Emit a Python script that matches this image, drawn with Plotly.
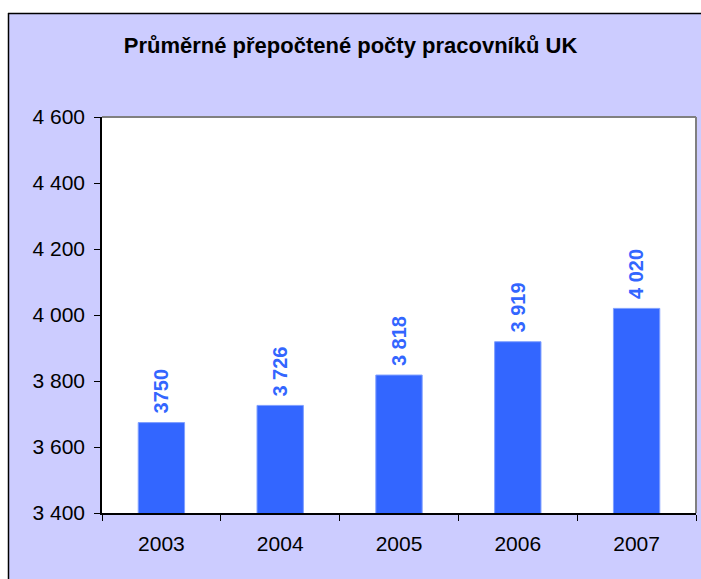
import plotly.graph_objects as go

years = ["2003", "2004", "2005", "2006", "2007"]
values = [3674, 3726, 3818, 3919, 4020]
labels = ["3750", "3 726", "3 818", "3 919", "4 020"]
y_ticks = [3400, 3600, 3800, 4000, 4200, 4400, 4600]
y_tick_text = ["3 400", "3 600", "3 800", "4 000", "4 200", "4 400", "4 600"]
title = "Průměrné přepočtené počty pracovníků UK"

W, H = 701, 579
L, R, T, B = 102, 5, 117, 66
pw, ph = W - L - R, H - T - B

def px(x):
    return (x - L) / pw

def py(y):
    return (H - B - y) / ph

FONT = "Liberation Sans, Arial, sans-serif"
BAR = "#3366FF"

fig = go.Figure()
fig.add_trace(go.Bar(
    x=years, y=values,
    marker=dict(color=BAR, line=dict(color="#7F9FFF", width=1)),
    width=0.39,
    hoverinfo="skip",
))

for i, (v, lab) in enumerate(zip(values, labels)):
    fig.add_annotation(
        x=i, y=v, text="<b>%s</b>" % lab, textangle=-90,
        showarrow=False, xanchor="center", yanchor="bottom", yshift=7,
        font=dict(family=FONT, size=20, color=BAR),
    )

shapes = [
    dict(type="rect", xref="paper", yref="paper", x0=px(-5), x1=px(8), y0=py(-5), y1=py(H + 5),
         fillcolor="white", line=dict(width=0), layer="above"),
    dict(type="rect", xref="paper", yref="paper", x0=px(-5), x1=px(W + 5), y0=py(13), y1=py(-5),
         fillcolor="white", line=dict(width=0), layer="above"),
    dict(type="line", xref="paper", yref="paper", x0=px(8.5), x1=px(8.5), y0=py(13), y1=py(H + 5),
         line=dict(color="black", width=1.5), layer="above"),
    dict(type="line", xref="paper", yref="paper", x0=px(8), x1=px(W + 5), y0=py(13.5), y1=py(13.5),
         line=dict(color="black", width=1.5), layer="above"),
    dict(type="line", xref="paper", yref="paper", x0=0, x1=1, y0=1, y1=1,
         line=dict(color="#808080", width=2), layer="above"),
    dict(type="line", xref="paper", yref="paper", x0=1, x1=1, y0=0, y1=1,
         line=dict(color="#808080", width=2), layer="above"),
]

fig.update_layout(
    width=W, height=H,
    margin=dict(l=L, r=R, t=T, b=B, autoexpand=False),
    paper_bgcolor="#CCCCFF",
    plot_bgcolor="white",
    showlegend=False,
    bargap=0.61,
    shapes=shapes,
    title=dict(text="<b>%s</b>" % title, x=0.5, xanchor="center", xref="container",
               y=1 - 45 / H, yanchor="middle", yref="container",
               font=dict(family=FONT, size=22, color="black")),
    font=dict(family=FONT, size=21, color="black"),
)
fig.update_xaxes(
    type="category", range=[-0.5, len(years) - 0.5],
    showline=True, linecolor="black", linewidth=1.5,
    ticks="outside", ticklen=6, tickcolor="black", tickson="boundaries",
    showgrid=False, tickangle=0, tickfont=dict(family=FONT, size=21, color="black"),
    ticklabelstandoff=11,
)
fig.update_yaxes(
    range=[3400, 4600], tickvals=y_ticks, ticktext=y_tick_text,
    showline=True, linecolor="black", linewidth=1.5,
    ticks="outside", ticklen=6, tickcolor="black",
    showgrid=False, zeroline=False,
    tickfont=dict(family=FONT, size=21, color="black"),
    ticklabelstandoff=5,
)

fig.write_html(
    "out.html",
    config={"displayModeBar": False},
    post_script="document.body.style.margin='0';document.body.style.overflow='hidden';",
)
